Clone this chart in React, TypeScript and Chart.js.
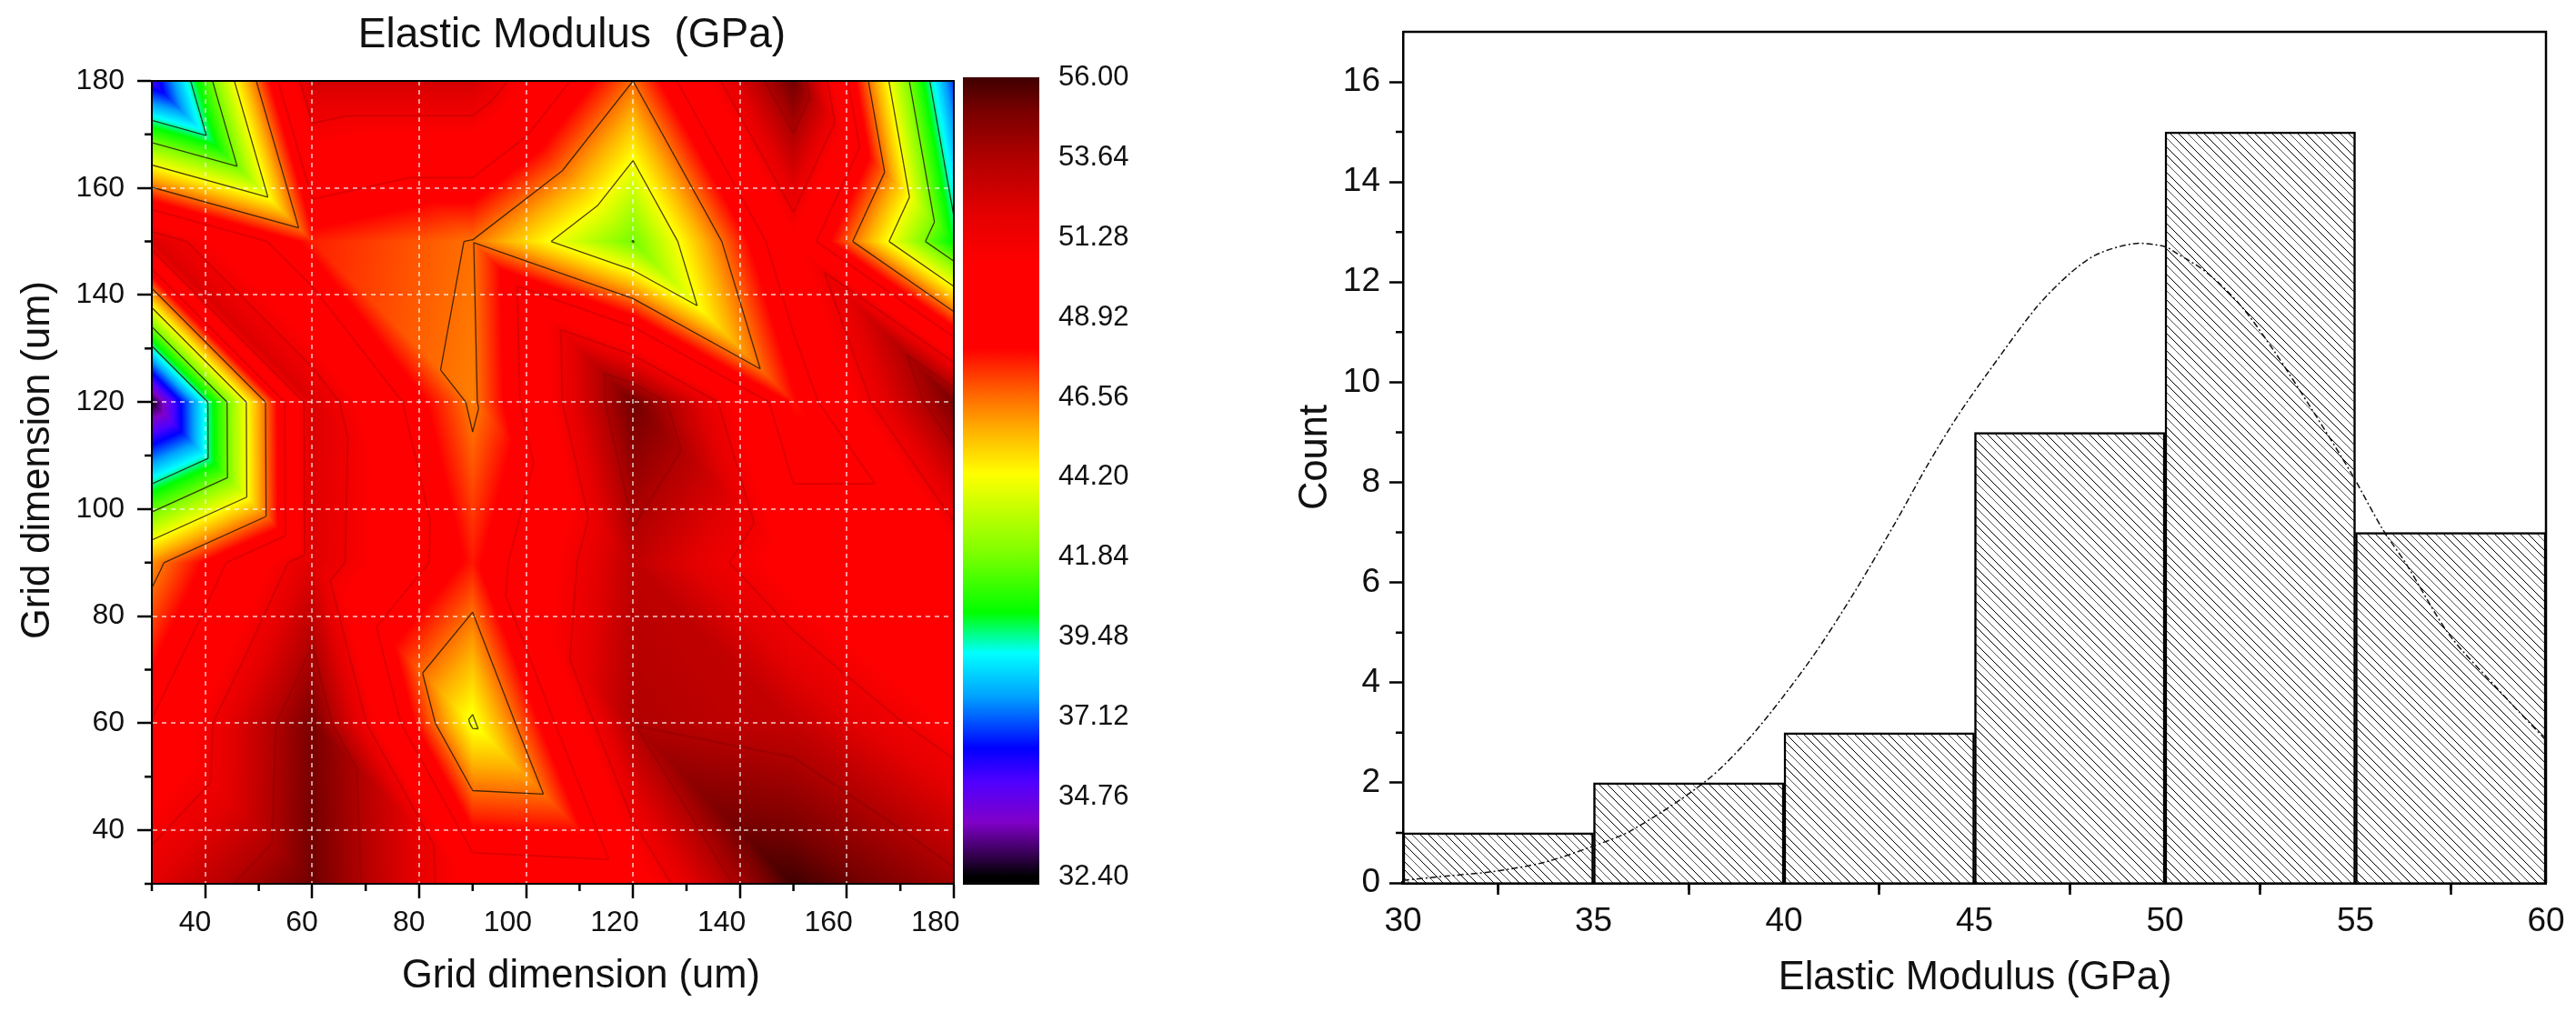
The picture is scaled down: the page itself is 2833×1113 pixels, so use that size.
import { useEffect, useRef } from 'react';
import { Chart, registerables } from 'chart.js';

Chart.register(...registerables);

const FONT = '"Liberation Sans", Arial, sans-serif';

// contour map, measured on a 30 um grid
const gridX = [30, 60, 90, 120, 150, 180];
const gridY = [30, 60, 90, 120, 150, 180];
const modulus30 = [52.0, 55.2, 50.1, 49.8, 56.0, 54.0];
const modulus60 = [49.0, 55.0, 44.0, 53.6, 53.0, 50.5];
const modulus90 = [46.1, 52.2, 47.7, 53.2, 50.0, 50.0];
const modulus120 = [32.6, 52.3, 46.3, 55.2, 47.8, 55.0];
const modulus150 = [52.3, 47.6, 46.5, 41.8, 50.4, 40.0];
const modulus180 = [35.3, 52.6, 52.6, 46.56, 55.2, 36.7];
const modulusRows = [modulus30, modulus60, modulus90, modulus120, modulus150, modulus180];

const contourMajorTicks = [40, 60, 80, 100, 120, 140, 160, 180];
const contourMinorTicks = [30, 50, 70, 90, 110, 130, 150, 170];
const strongLevels = [39.48, 41.84, 44.2, 46.56];
const faintLevels = [48.92, 51.28, 53.64];

// colour scale
const scaleLabels = [32.4, 34.76, 37.12, 39.48, 41.84, 44.2, 46.56, 48.92, 51.28, 53.64, 56.0];
const stopValues = [32.16, 32.4, 32.9, 34, 35.2, 36.2, 37.7, 39, 40.2, 42, 44.3, 45.6, 46.6, 48, 50.5, 52, 53.64, 55, 56.02];
const stopColors = ['#000000', '#000000', '#2a0040', '#8000c8', '#5000ff', '#0000ff', '#00a0ff', '#00ffff', '#00ff00',
  '#80ff00', '#ffff00', '#ffb000', '#ff6a00', '#ff0000', '#ff0000', '#e40000', '#b00000', '#7a0000', '#400000'];

// histogram
const binCentres = [32.5, 37.5, 42.5, 47.5, 52.5, 57.5];
const binCounts = [1, 2, 3, 9, 15, 7];
const fitX = [30, 31.2, 32.4, 33.7, 34.9, 36, 37.96, 39.16, 40.67, 41.86, 42.97, 43.77, 44.56, 45.36, 46.63, 47.5, 48.2, 49.2, 50, 50.3,
  51.1, 52, 52.84, 53.87, 54.9, 55.7, 56.34, 57.45, 58.7, 60];
const fitY = [0.05, 0.14, 0.23, 0.41, 0.71, 1.05, 2.04, 2.95, 4.43, 5.82, 7.26, 8.35, 9.33, 10.2, 11.5, 12.17, 12.55, 12.77, 12.71, 12.58,
  12.19, 11.52, 10.65, 9.44, 8.17, 7.08, 6.36, 4.97, 3.9, 2.85];
const histXTicks = [30, 35, 40, 45, 50, 55, 60];
const histXMinor = [32.5, 37.5, 42.5, 47.5, 52.5, 57.5];
const histYTicks = [0, 2, 4, 6, 8, 10, 12, 14, 16];
const histYMinor = [1, 3, 5, 7, 9, 11, 13, 15];

function hexToRgb(hex: string) {
  return [parseInt(hex.slice(1, 3), 16), parseInt(hex.slice(3, 5), 16), parseInt(hex.slice(5, 7), 16)];
}

function colourAt(v: number) {
  if (v <= stopValues[0]) return hexToRgb(stopColors[0]);
  for (let i = 1; i < stopValues.length; i++) {
    if (v <= stopValues[i]) {
      const t = (v - stopValues[i - 1]) / (stopValues[i] - stopValues[i - 1]);
      const a = hexToRgb(stopColors[i - 1]);
      const b = hexToRgb(stopColors[i]);
      return [a[0] + (b[0] - a[0]) * t, a[1] + (b[1] - a[1]) * t, a[2] + (b[2] - a[2]) * t];
    }
  }
  return hexToRgb(stopColors[stopColors.length - 1]);
}

// every grid cell is split along its top-left to bottom-right diagonal
function cellTriangles() {
  const tris: number[][][] = [];
  for (let j = 0; j < gridY.length - 1; j++) {
    for (let i = 0; i < gridX.length - 1; i++) {
      const bl = [gridX[i], gridY[j], modulusRows[j][i]];
      const br = [gridX[i + 1], gridY[j], modulusRows[j][i + 1]];
      const tl = [gridX[i], gridY[j + 1], modulusRows[j + 1][i]];
      const tr = [gridX[i + 1], gridY[j + 1], modulusRows[j + 1][i + 1]];
      tris.push([tl, bl, br], [tl, tr, br]);
    }
  }
  return tris;
}

function valueAt(x: number, y: number) {
  const i = Math.max(0, Math.min(gridX.length - 2, gridX.findIndex((g) => g > x) - 1));
  const j = Math.max(0, Math.min(gridY.length - 2, gridY.findIndex((g) => g > y) - 1));
  const u = (x - gridX[i]) / (gridX[i + 1] - gridX[i]);
  const w = (y - gridY[j]) / (gridY[j + 1] - gridY[j]);
  const bl = modulusRows[j][i], br = modulusRows[j][i + 1], tl = modulusRows[j + 1][i], tr = modulusRows[j + 1][i + 1];
  if (u + w <= 1) return bl + u * (br - bl) + w * (tl - bl);
  return tr + (1 - u) * (tl - tr) + (1 - w) * (br - tr);
}

const heatmapPlugin = {
  id: 'heatmap',
  beforeDraw(chart: any) {
    const { ctx, chartArea, scales } = chart;
    const w = Math.round(chartArea.right - chartArea.left);
    const h = Math.round(chartArea.bottom - chartArea.top);
    const off = document.createElement('canvas');
    off.width = w;
    off.height = h;
    const octx = off.getContext('2d')!;
    const img = octx.createImageData(w, h);
    for (let py = 0; py < h; py++) {
      const y = scales.y.getValueForPixel(chartArea.top + py + 0.5);
      for (let px = 0; px < w; px++) {
        const x = scales.x.getValueForPixel(chartArea.left + px + 0.5);
        const c = colourAt(valueAt(x, y));
        const k = (py * w + px) * 4;
        img.data[k] = c[0];
        img.data[k + 1] = c[1];
        img.data[k + 2] = c[2];
        img.data[k + 3] = 255;
      }
    }
    octx.putImageData(img, 0, 0);
    ctx.drawImage(off, chartArea.left, chartArea.top);
  },
};

function strokeLevel(chart: any, level: number, colour: string, width: number) {
  const { ctx, scales } = chart;
  ctx.strokeStyle = colour;
  ctx.lineWidth = width;
  ctx.beginPath();
  for (const tri of cellTriangles()) {
    const hits: number[][] = [];
    for (let e = 0; e < 3; e++) {
      const a = tri[e], b = tri[(e + 1) % 3];
      if ((a[2] < level) !== (b[2] < level)) {
        const t = (level - a[2]) / (b[2] - a[2]);
        hits.push([a[0] + (b[0] - a[0]) * t, a[1] + (b[1] - a[1]) * t]);
      }
    }
    if (hits.length === 2) {
      ctx.moveTo(scales.x.getPixelForValue(hits[0][0]), scales.y.getPixelForValue(hits[0][1]));
      ctx.lineTo(scales.x.getPixelForValue(hits[1][0]), scales.y.getPixelForValue(hits[1][1]));
    }
  }
  ctx.stroke();
}

const contourPlugin = {
  id: 'contours',
  beforeDatasetsDraw(chart: any) {
    const { ctx, chartArea } = chart;
    ctx.save();
    ctx.beginPath();
    ctx.rect(chartArea.left, chartArea.top, chartArea.right - chartArea.left, chartArea.bottom - chartArea.top);
    ctx.clip();
    faintLevels.forEach((l) => strokeLevel(chart, l, 'rgba(60,0,0,0.16)', 2));
    strongLevels.forEach((l) => strokeLevel(chart, l, 'rgba(30,20,0,0.8)', 1.3));
    ctx.restore();
  },
};

// short ticks and the open sides of the frame
function axisExtrasPlugin(xMinor: number[], yMinor: number[], len: number, frameWidth: number) {
  return {
    id: 'axisExtras',
    afterDraw(chart: any) {
      const { ctx, chartArea, scales } = chart;
      ctx.save();
      ctx.strokeStyle = '#000';
      ctx.lineWidth = 2.5;
      ctx.beginPath();
      xMinor.forEach((v) => {
        const x = scales.x.getPixelForValue(v);
        ctx.moveTo(x, chartArea.bottom);
        ctx.lineTo(x, chartArea.bottom + len);
      });
      yMinor.forEach((v) => {
        const y = scales.y.getPixelForValue(v);
        ctx.moveTo(chartArea.left, y);
        ctx.lineTo(chartArea.left - len, y);
      });
      ctx.stroke();
      ctx.lineWidth = frameWidth;
      ctx.beginPath();
      ctx.moveTo(chartArea.left, chartArea.top);
      ctx.lineTo(chartArea.right, chartArea.top);
      ctx.lineTo(chartArea.right, chartArea.bottom);
      ctx.stroke();
      ctx.restore();
    },
  };
}

function captionsPlugin(items: { text: string; x: number; y: number; size: number; rotate?: boolean }[]) {
  return {
    id: 'captions',
    afterDraw(chart: any) {
      const { ctx } = chart;
      ctx.save();
      ctx.fillStyle = '#111';
      ctx.textAlign = 'center';
      ctx.textBaseline = 'alphabetic';
      items.forEach((it) => {
        ctx.save();
        ctx.translate(it.x, it.y);
        if (it.rotate) ctx.rotate(-Math.PI / 2);
        ctx.font = `${it.size}px ${FONT}`;
        ctx.fillText(it.text, 0, 0);
        ctx.restore();
      });
      ctx.restore();
    },
  };
}

function useChart(makeConfig: () => any) {
  const ref = useRef<HTMLCanvasElement>(null);
  useEffect(() => {
    if (!ref.current) return;
    const chart = new Chart(ref.current, makeConfig());
    return () => chart.destroy();
  }, []);
  return ref;
}

// keeps tick labels from pushing the plot area in
function fixBox(s: any, width: number, height: number) {
  if (width) s.width = width;
  if (height) s.height = height;
  s.paddingLeft = 0;
  s.paddingRight = 0;
  s.paddingTop = 0;
  s.paddingBottom = 0;
}

function contourConfig() {
  const axis = (extra: any) => ({
    type: 'linear',
    min: 30,
    max: 180,
    afterBuildTicks: (a: any) => { a.ticks = contourMajorTicks.map((value) => ({ value })); },
    border: { display: true, color: '#000', width: 2, dash: [5, 5] },
    grid: {
      color: (c: any) => (c.tick && c.tick.value === 180 ? 'transparent' : 'rgba(255,255,255,0.6)'),
      lineWidth: 2,
      tickColor: '#000',
      tickWidth: 2.5,
      tickLength: 16,
    },
    ...extra,
  });
  return {
    type: 'scatter',
    data: {
      datasets: [{
        label: 'Elastic Modulus',
        data: gridY.flatMap((y, j) => gridX.map((x, i) => ({ x, y, v: modulusRows[j][i] }))),
        pointRadius: 0,
        showLine: false,
      }],
    },
    options: {
      animation: false,
      responsive: false,
      devicePixelRatio: 1,
      layout: { autoPadding: false, padding: { top: 89, right: 31, left: 0, bottom: 0 } },
      plugins: { legend: { display: false }, tooltip: { enabled: false } },
      scales: {
        x: axis({
          ticks: { font: { family: FONT, size: 32 }, color: '#111', padding: 8, align: 'end', labelOffset: 6.5, maxRotation: 0, autoSkip: false },
          afterFit: (s: any) => fixBox(s, 0, 141),
        }),
        y: axis({
          ticks: { font: { family: FONT, size: 32 }, color: '#111', padding: 14, autoSkip: false },
          afterFit: (s: any) => fixBox(s, 167, 0),
        }),
      },
    },
    plugins: [
      heatmapPlugin,
      contourPlugin,
      axisExtrasPlugin(contourMinorTicks, contourMinorTicks, 8, 2),
      captionsPlugin([
        { text: 'Elastic Modulus  (GPa)', x: 629, y: 52, size: 46 },
        { text: 'Grid dimension (um)', x: 639, y: 1086, size: 43.5 },
        { text: 'Grid dimension (um)', x: 54, y: 506, size: 43.5, rotate: true },
      ]),
    ],
  };
}

function scaleConfig() {
  return {
    type: 'bar',
    data: {
      labels: ['z'],
      datasets: [{
        data: [[32.16, 56.02]],
        categoryPercentage: 1,
        barPercentage: 1,
        backgroundColor: (c: any) => {
          const { chartArea, scales, ctx } = c.chart;
          if (!chartArea) return '#f00';
          const g = ctx.createLinearGradient(0, chartArea.bottom, 0, chartArea.top);
          const span = scales.y.max - scales.y.min;
          stopValues.forEach((v, i) => g.addColorStop(Math.min(1, Math.max(0, (v - scales.y.min) / span)), stopColors[i]));
          return g;
        },
      }],
    },
    options: {
      animation: false,
      responsive: false,
      devicePixelRatio: 1,
      layout: { autoPadding: false, padding: { top: 85, bottom: 140, left: 0, right: 0 } },
      plugins: { legend: { display: false }, tooltip: { enabled: false } },
      scales: {
        x: { display: false },
        y: {
          position: 'right',
          min: 32.16,
          max: 56.02,
          afterBuildTicks: (a: any) => { a.ticks = scaleLabels.map((value) => ({ value })); },
          grid: { display: false },
          border: { display: false },
          ticks: {
            callback: (v: number) => v.toFixed(2),
            font: { family: FONT, size: 31 },
            color: '#111',
            padding: 13,
            autoSkip: false,
          },
          afterFit: (s: any) => fixBox(s, 101, 0),
        },
      },
    },
  };
}

function hatchPattern() {
  const tile = document.createElement('canvas');
  tile.width = 28;
  tile.height = 28;
  const t = tile.getContext('2d')!;
  t.fillStyle = '#fff';
  t.fillRect(0, 0, 28, 28);
  [[0, '#000'], [9, '#000'], [19, '#555']].forEach(([off, colour]) => {
    t.fillStyle = colour as string;
    for (let i = 0; i < 28; i++) t.fillRect((i + (off as number)) % 28, i, 1, 1);
  });
  return t.createPattern(tile, 'repeat');
}

function histogramConfig() {
  return {
    type: 'bar',
    data: {
      datasets: [
        {
          type: 'line',
          label: 'Fit',
          data: fitX.map((x, i) => ({ x, y: fitY[i] })),
          borderColor: '#111',
          borderWidth: 1.5,
          borderDash: [7, 3, 2, 3],
          pointRadius: 0,
          tension: 0.3,
          order: 0,
        },
        {
          type: 'bar',
          label: 'Count',
          data: binCentres.map((x, i) => ({ x, y: binCounts[i] })),
          backgroundColor: hatchPattern(),
          borderColor: '#000',
          borderWidth: 2.5,
          categoryPercentage: 1,
          barPercentage: 1,
          order: 1,
        },
      ],
    },
    options: {
      animation: false,
      responsive: false,
      devicePixelRatio: 1,
      layout: { autoPadding: false, padding: { top: 35, right: 33, left: 0, bottom: 0 } },
      plugins: { legend: { display: false }, tooltip: { enabled: false } },
      scales: {
        x: {
          type: 'linear',
          offset: false,
          min: 30,
          max: 60,
          afterBuildTicks: (a: any) => { a.ticks = histXTicks.map((value) => ({ value })); },
          grid: { display: true, drawOnChartArea: false, tickColor: '#000', tickWidth: 2.5, tickLength: 13 },
          border: { display: true, color: '#000', width: 4 },
          ticks: { font: { family: FONT, size: 37 }, color: '#111', padding: 8, maxRotation: 0, autoSkip: false },
          afterFit: (s: any) => fixBox(s, 0, 142),
        },
        y: {
          min: 0,
          max: 17,
          afterBuildTicks: (a: any) => { a.ticks = histYTicks.map((value) => ({ value })); },
          grid: { drawOnChartArea: false, tickColor: '#000', tickWidth: 2.5, tickLength: 15 },
          border: { display: true, color: '#000', width: 2.5 },
          ticks: { font: { family: FONT, size: 37 }, color: '#111', padding: 10, autoSkip: false },
          afterFit: (s: any) => fixBox(s, 143, 0),
        },
      },
    },
    plugins: [
      axisExtrasPlugin(histXMinor, histYMinor, 8, 2.5),
      captionsPlugin([
        { text: 'Elastic Modulus (GPa)', x: 772, y: 1088, size: 43.5 },
        { text: 'Count', x: 59, y: 503, size: 43.5, rotate: true },
      ]),
    ],
  };
}

function Placed({ left, width, children }: { left: number; width: number; children: any }) {
  return <div style={{ position: 'absolute', left, top: 0, width, height: 1113 }}>{children}</div>;
}

export default function App() {
  const contourRef = useChart(contourConfig);
  const scaleRef = useChart(scaleConfig);
  const histRef = useChart(histogramConfig);
  return (
    <div style={{ position: 'absolute', left: 0, top: 0, width: 2833, height: 1113, background: '#fff', overflow: 'hidden' }}>
      <Placed left={0} width={1080}><canvas ref={contourRef} width={1080} height={1113} style={{ display: 'block' }} /></Placed>
      <Placed left={1059} width={185}><canvas ref={scaleRef} width={185} height={1113} style={{ display: 'block' }} /></Placed>
      <Placed left={1400} width={1433}><canvas ref={histRef} width={1433} height={1113} style={{ display: 'block' }} /></Placed>
    </div>
  );
}
